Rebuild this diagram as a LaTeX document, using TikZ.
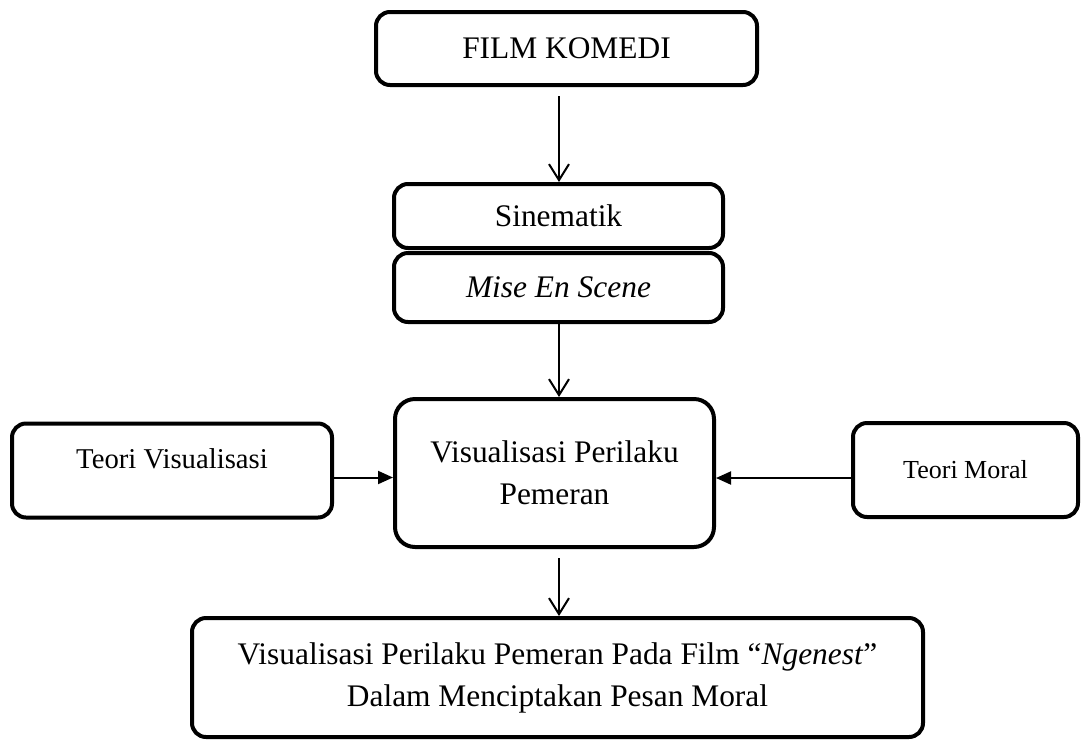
\documentclass[tikz,border=0pt]{standalone}
\usepackage{fontspec}
\setmainfont{Liberation Serif}
\usetikzlibrary{arrows.meta}
\begin{document}
\begin{tikzpicture}[x=1pt,y=-1pt,
  box/.style={draw=black, line width=4pt, rounded corners=14pt, fill=white, inner sep=0pt, align=center},
  bigfont/.style={font=\fontsize{31.4}{42}\selectfont},
  openarrow/.style={line width=2pt, -{Straight Barb[length=16pt,width=20pt]}},
  fillarrow/.style={line width=2pt, -{Triangle[length=15pt,width=13pt]}}]
\fill[white] (0,0) rectangle (1082,740);
\useasboundingbox (0,0) rectangle (1082,740);
\node[box, bigfont, minimum width=381pt, minimum height=73pt] (film) at (566.5,48.5) {FILM KOMEDI};
\node[box, bigfont, minimum width=329pt, minimum height=64pt] (sin) at (558.5,216) {Sinematik};
\node[box, bigfont, minimum width=329pt, minimum height=69pt] (mise) at (558.5,287.5) {\textit{Mise En Scene}};
\node[box, bigfont, rounded corners=20pt, minimum width=319pt, minimum height=148pt] (vis) at (554.5,473) {Visualisasi Perilaku\\Pemeran};
\node[box, font=\fontsize{28.7}{34}\selectfont, minimum width=320pt, minimum height=94pt] (tv) at (172,470.5) {\raisebox{2.5pt}[0pt][0pt]{Teori Visualisasi}};
\node[box, font=\fontsize{26}{32}\selectfont, minimum width=225pt, minimum height=94pt] (tm) at (965.5,470) {Teori Moral};
\node[box, bigfont, minimum width=731pt, minimum height=119pt] (bot) at (557.5,677.5) {Visualisasi Perilaku Pemeran Pada Film “\textit{Ngenest}”\\Dalam Menciptakan Pesan Moral};
\draw[openarrow, shorten <=9pt] ([xshift=0.5pt]sin.north |- film.south) -- ([xshift=0.5pt]sin.north);
\draw[openarrow] ([xshift=0.5pt]mise.south) -- ([xshift=0.5pt]mise.south |- vis.north);
\draw[fillarrow] ([yshift=-7pt]tv.east) -- ([yshift=-7pt]tv.east -| vis.west);
\draw[fillarrow] ([yshift=-8pt]tm.west) -- ([yshift=-8pt]tm.west -| vis.east);
\draw[openarrow, shorten <=9pt] ([xshift=0.5pt]sin.north |- vis.south) -- ([xshift=0.5pt]sin.north |- bot.north);
\end{tikzpicture}
\end{document}
